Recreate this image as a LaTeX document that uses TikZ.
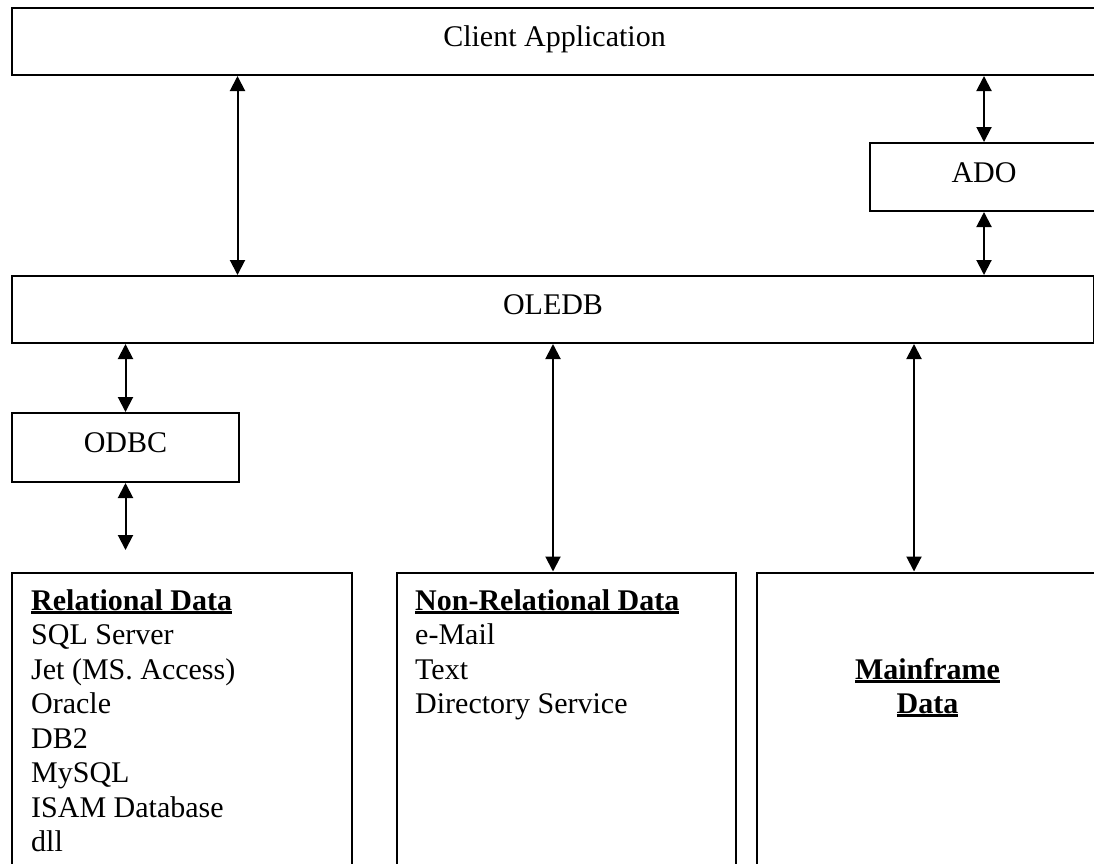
\documentclass[tikz,border=0pt]{standalone}
\usepackage{fontspec}
\setmainfont{Liberation Serif}
\usetikzlibrary{arrows.meta}
\usetikzlibrary{calc}
\newcommand{\ulhead}[1]{\setbox0\hbox{\textbf{#1}}\rlap{\rule[-3.5pt]{\wd0}{2.6pt}}\box0}
\tikzset{
  layer/.style={draw, line width=2pt, inner sep=0pt, text height=20pt, text depth=10pt,
    font=\fontsize{30}{34.5}\selectfont, anchor=north west},
  store/.style={draw, line width=2pt, inner sep=0pt, minimum height=300pt, anchor=north west},
  listing/.style={align=left, font=\fontsize{30}{34.5}\selectfont, inner sep=0pt},
  link/.style={line width=2pt,
    {Triangle[width=15pt,length=15pt]}-{Triangle[width=15pt,length=15pt]}}
}

\begin{document}
\begin{tikzpicture}[x=1pt,y=-1pt]
      \useasboundingbox (0,0) rectangle (1094,863);
      \clip (0,0) rectangle (1094,863);
      % layers
      \node[layer, minimum width=1085pt, minimum height=67pt] (client) at (11,7) {Client Application};
      \node[layer, minimum width=228pt, minimum height=68pt] (ado) at (869,142) {ADO};
      \node[layer, minimum width=1082pt, minimum height=67pt] (oledb) at (11,275) {OLEDB};
      \node[layer, minimum width=227pt, minimum height=69pt] (odbc) at (11,412) {ODBC};
      % data stores (base anchor sits on the last line)
      \node[store, minimum width=339.5pt] (rel) at (11,571.5) {};
      \node[store, minimum width=339pt] (nonrel) at (396,571.5) {};
      \node[store, minimum width=341pt] (main) at (756,571.5) {};
      \node[listing, anchor=base west] (reltxt) at ([xshift=20pt,yshift=-280pt]rel.north west)
        {\ulhead{Relational Data}\\SQL Server\\Jet (MS. Access)\\Oracle\\DB2\\MySQL\\ISAM Database\\dll};
      \node[listing, anchor=base west] (nonreltxt) at ([xshift=19pt,yshift=-142pt]nonrel.north west)
        {\ulhead{Non-Relational Data}\\e-Mail\\Text\\Directory Service};
      \node[listing, align=center, anchor=base] (maintxt) at ([yshift=-142pt]main.north)
        {\ulhead{Mainframe}\\\ulhead{Data}};
      % links
      \coordinate (odbcend) at ([yshift=-67pt]odbc.south);
      \coordinate (mfin) at ([xshift=158pt]main.north west);
      \draw[link] ([xshift=226.5pt]client.south west) -- ([xshift=226.5pt]oledb.north west);
      \draw[link] (client.south -| ado.north) -- (ado.north);
      \draw[link] (ado.south) -- (oledb.north -| ado.south);
      \draw[link] (oledb.south -| odbc.north) -- (odbc.north);
      \draw[link] (odbc.south) -- (odbcend);
      \draw[link] (oledb.south) -- (oledb.south |- nonrel.north);
      \draw[link] (oledb.south -| mfin) -- (mfin);
\end{tikzpicture}
\end{document}
